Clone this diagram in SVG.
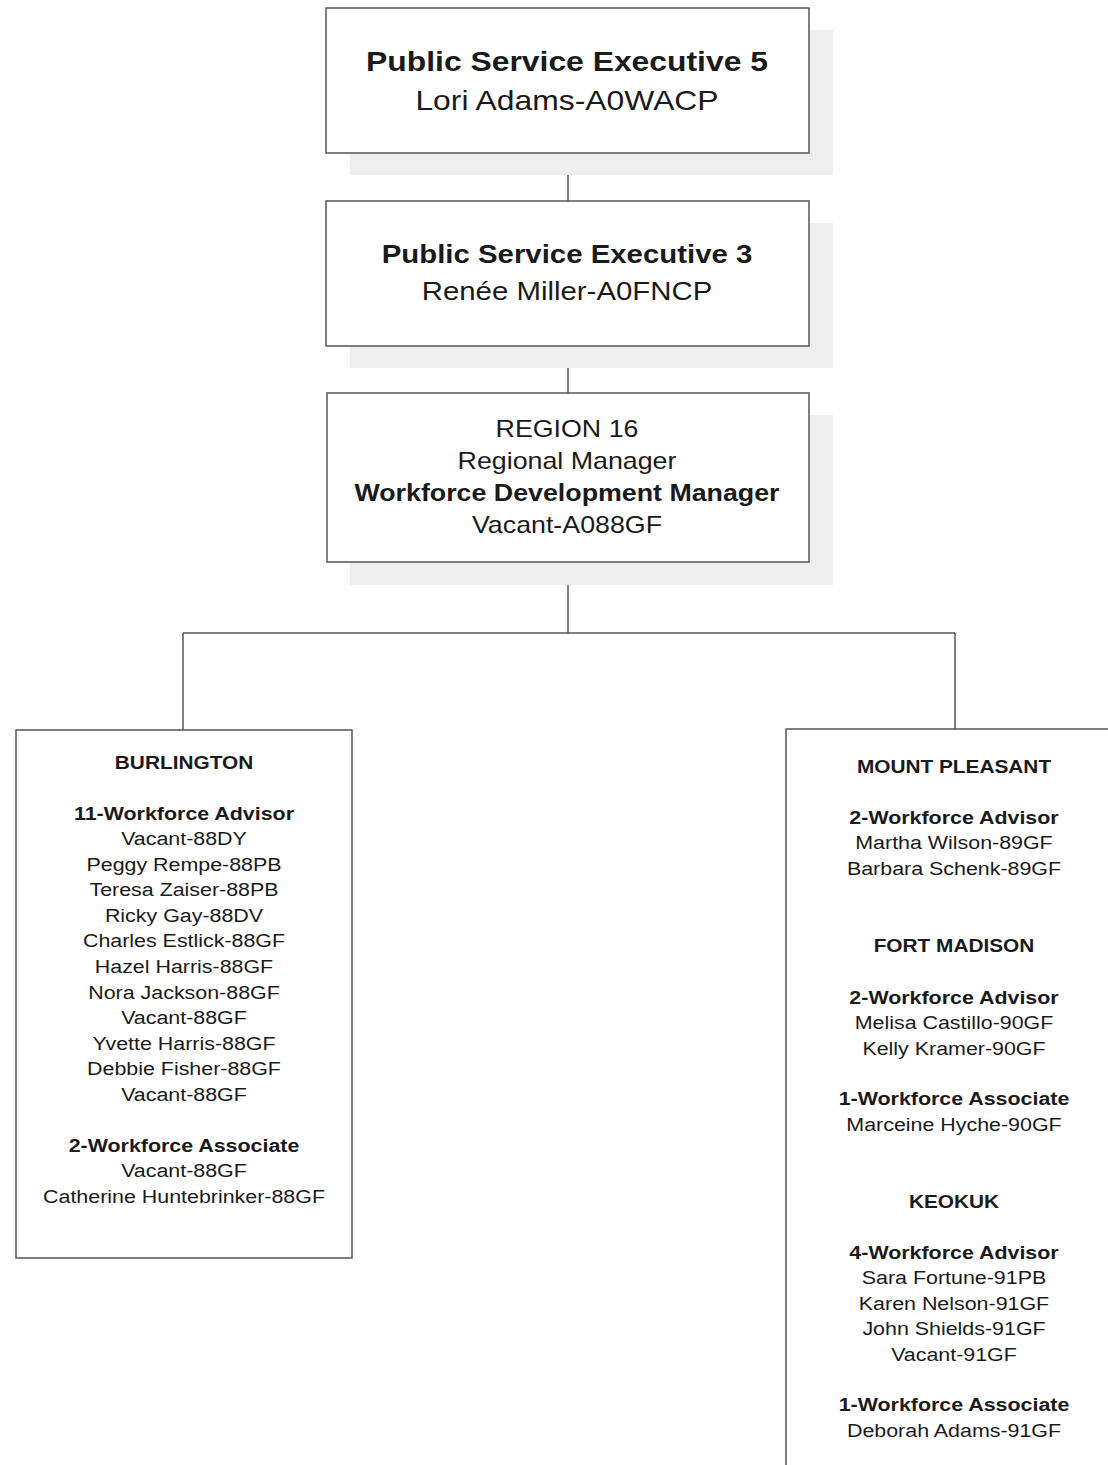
<svg xmlns="http://www.w3.org/2000/svg" width="1108" height="1465" viewBox="0 0 1108 1465">
<style>
.box{fill:#fff;stroke:#555;stroke-width:1.5}
.sh{fill:#eeeeee}
.c{stroke:#555;stroke-width:1.5;fill:none}
text{font-family:"Liberation Sans",Arial,sans-serif;fill:#1a1a1a;text-anchor:middle}
.t0{font-size:27px}
.t1{font-size:26px}
.t2{font-size:23px}
.t3{font-size:18px}
.h{font-size:17.5px;font-weight:bold}
.b{font-weight:bold}
</style>
<rect width="1108" height="1465" fill="#fff"/>
<g id="connectors">
<path class="c" d="M568 153V201M568 346V393M568 562V633M183 633H955M183 633V730M955 633V729"/>
</g>
<g id="pse5">
<rect class="sh" x="350" y="30" width="483" height="145"/>
<rect class="box" x="326" y="8" width="483" height="145"/>
<g transform="translate(567 0) scale(1.18 1)">
<text class="t0 b" x="0" y="71">Public Service Executive 5</text>
<text class="t0" x="0" y="110">Lori Adams-A0WACP</text>
</g>
</g>
<g id="pse3">
<rect class="sh" x="350" y="223" width="483" height="145"/>
<rect class="box" x="326" y="201" width="483" height="145"/>
<g transform="translate(567 0) scale(1.13 1)">
<text class="t1 b" x="0" y="263">Public Service Executive 3</text>
<text class="t1" x="0" y="300">Renée Miller-A0FNCP</text>
</g>
</g>
<g id="region16">
<rect class="sh" x="350" y="415" width="483" height="170"/>
<rect class="box" x="327" y="393" width="482" height="169"/>
<g transform="translate(567 0) scale(1.165 1)">
<text class="t2" x="0" y="437">REGION 16</text>
<text class="t2" x="0" y="469">Regional Manager</text>
<text class="t2 b" x="0" y="501">Workforce Development Manager</text>
<text class="t2" x="0" y="533">Vacant-A088GF</text>
</g>
</g>
<g id="burlington">
<rect class="box" x="16" y="730" width="336" height="528"/>
<g transform="translate(184 0) scale(1.19 1)">
<text class="h" x="0" y="769">BURLINGTON</text>
<text class="t3 b" x="0" y="820">11-Workforce Advisor</text>
<text class="t3" x="0" y="845">Vacant-88DY</text>
<text class="t3" x="0" y="871">Peggy Rempe-88PB</text>
<text class="t3" x="0" y="896">Teresa Zaiser-88PB</text>
<text class="t3" x="0" y="922">Ricky Gay-88DV</text>
<text class="t3" x="0" y="947">Charles Estlick-88GF</text>
<text class="t3" x="0" y="973">Hazel Harris-88GF</text>
<text class="t3" x="0" y="999">Nora Jackson-88GF</text>
<text class="t3" x="0" y="1024">Vacant-88GF</text>
<text class="t3" x="0" y="1050">Yvette Harris-88GF</text>
<text class="t3" x="0" y="1075">Debbie Fisher-88GF</text>
<text class="t3" x="0" y="1101">Vacant-88GF</text>
<text class="t3 b" x="0" y="1152">2-Workforce Associate</text>
<text class="t3" x="0" y="1177">Vacant-88GF</text>
<text class="t3" x="0" y="1203">Catherine Huntebrinker-88GF</text>
</g>
</g>
<g id="mountpleasant">
<rect class="box" x="786" y="729" width="340" height="760"/>
<g transform="translate(954 0) scale(1.19 1)">
<text class="h" x="0" y="773">MOUNT PLEASANT</text>
<text class="t3 b" x="0" y="824">2-Workforce Advisor</text>
<text class="t3" x="0" y="849">Martha Wilson-89GF</text>
<text class="t3" x="0" y="875">Barbara Schenk-89GF</text>
<text class="h" x="0" y="952">FORT MADISON</text>
<text class="t3 b" x="0" y="1004">2-Workforce Advisor</text>
<text class="t3" x="0" y="1029">Melisa Castillo-90GF</text>
<text class="t3" x="0" y="1055">Kelly Kramer-90GF</text>
<text class="t3 b" x="0" y="1105">1-Workforce Associate</text>
<text class="t3" x="0" y="1131">Marceine Hyche-90GF</text>
<text class="h" x="0" y="1208">KEOKUK</text>
<text class="t3 b" x="0" y="1259">4-Workforce Advisor</text>
<text class="t3" x="0" y="1284">Sara Fortune-91PB</text>
<text class="t3" x="0" y="1310">Karen Nelson-91GF</text>
<text class="t3" x="0" y="1335">John Shields-91GF</text>
<text class="t3" x="0" y="1361">Vacant-91GF</text>
<text class="t3 b" x="0" y="1411">1-Workforce Associate</text>
<text class="t3" x="0" y="1437">Deborah Adams-91GF</text>
</g>
</g>
</svg>
